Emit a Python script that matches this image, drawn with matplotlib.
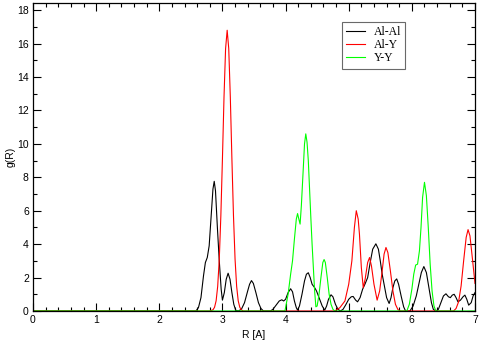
import numpy as np
import matplotlib
matplotlib.use("Agg")
import matplotlib.pyplot as plt
from matplotlib.ticker import MultipleLocator

# Al-Al
r_alal = [0.0, 2.58, 2.62, 2.66, 2.70, 2.73, 2.76, 2.79, 2.82, 2.85, 2.87, 2.89, 2.92, 2.95, 2.98,
          3.00, 3.03, 3.06, 3.09, 3.12, 3.15, 3.18, 3.21, 3.25, 3.30, 3.35, 3.40, 3.43, 3.46, 3.49,
          3.53, 3.57, 3.61, 3.65, 3.76, 3.80, 3.85, 3.90, 3.94, 3.97, 4.00, 4.04, 4.08, 4.11, 4.14,
          4.17, 4.19, 4.22, 4.26, 4.30, 4.33, 4.36, 4.39, 4.42, 4.46, 4.49, 4.52, 4.55, 4.58, 4.62,
          4.65, 4.68, 4.72, 4.75, 4.79, 4.83, 4.87, 4.91, 4.95, 5.00, 5.04, 5.07, 5.11, 5.14, 5.18,
          5.22, 5.26, 5.30, 5.34, 5.38, 5.43, 5.47, 5.50, 5.53, 5.57, 5.60, 5.64, 5.67, 5.70, 5.73,
          5.76, 5.79, 5.83, 5.87, 5.90, 5.97, 6.02, 6.07, 6.11, 6.15, 6.19, 6.23, 6.27, 6.31, 6.34,
          6.38, 6.42, 6.46, 6.50, 6.54, 6.58, 6.61, 6.64, 6.67, 6.70, 6.73, 6.77, 6.81, 6.84, 6.87,
          6.90, 6.94, 6.97, 7.00]
g_alal = [0.0, 0.0, 0.2, 0.8, 2.1, 2.9, 3.2, 3.9, 5.6, 7.3, 7.76, 7.2, 5.0, 3.0, 1.3,
          0.65, 1.1, 1.9, 2.26, 1.9, 1.1, 0.4, 0.05, 0.0, 0.1, 0.5, 1.2, 1.6, 1.82, 1.65,
          1.1, 0.5, 0.15, 0.0, 0.0, 0.1, 0.35, 0.6, 0.67, 0.6, 0.7, 1.1, 1.33, 1.15, 0.6,
          0.2, 0.05, 0.3, 1.0, 1.8, 2.2, 2.29, 2.0, 1.6, 1.4, 1.2, 0.9, 0.6, 0.3, 0.05,
          0.3, 0.7, 0.97, 0.85, 0.4, 0.1, 0.0, 0.1, 0.35, 0.7, 0.85, 0.87, 0.65, 0.55, 0.8,
          1.3, 1.63, 2.0, 2.9, 3.7, 4.02, 3.7, 3.0, 2.2, 1.4, 0.8, 0.45, 0.8, 1.4, 1.8,
          1.92, 1.6, 0.9, 0.25, 0.0, 0.0, 0.3, 0.9, 1.6, 2.3, 2.66, 2.3, 1.4, 0.5, 0.1,
          0.0, 0.1, 0.5, 0.9, 1.03, 0.85, 0.8, 0.95, 1.0, 0.8, 0.55, 0.65, 0.85, 0.95, 0.7,
          0.35, 0.5, 0.9, 1.1]

# Al-Y
r_aly = [0.0, 2.80, 2.85, 2.875, 2.90, 2.925, 2.95, 2.975, 3.00, 3.025, 3.05, 3.075, 3.10, 3.125,
         3.15, 3.175, 3.20, 3.225, 3.25, 3.275, 3.30, 3.33, 4.78, 4.86, 4.94, 5.00, 5.05, 5.09,
         5.12, 5.15, 5.17, 5.20, 5.23, 5.26, 5.30, 5.33, 5.36, 5.40, 5.45, 5.49, 5.53, 5.56, 5.59,
         5.62, 5.66, 5.70, 5.74, 5.78, 5.82, 6.66, 6.70, 6.74, 6.78, 6.82, 6.86, 6.89, 6.92, 6.96,
         7.00]
g_aly = [0.0, 0.0, 0.07, 0.22, 0.61, 1.48, 3.1, 5.7, 9.1, 12.8, 15.7, 16.8, 15.7, 12.8,
         9.1, 5.7, 3.1, 1.48, 0.61, 0.22, 0.07, 0.0, 0.0, 0.2, 0.6, 1.6, 3.0, 5.0,
         6.0, 5.5, 4.6, 2.6, 1.4, 1.9, 2.9, 3.2, 2.7, 1.6, 0.65, 1.2, 2.4, 3.4, 3.8,
         3.5, 2.4, 1.2, 0.4, 0.08, 0.0, 0.0, 0.15, 0.55, 1.5, 3.0, 4.4, 4.87, 4.5, 3.1,
         1.65]

# Y-Y
r_yy = [0.0, 3.99, 4.04, 4.08, 4.11, 4.14, 4.17, 4.19, 4.21, 4.23, 4.25, 4.28, 4.30, 4.32, 4.34,
        4.36, 4.38, 4.40, 4.42, 4.44, 4.46, 4.48, 4.50, 4.53, 4.56, 4.59, 4.61, 4.63, 4.66, 4.69,
        4.72, 4.75, 4.78, 5.92, 5.96, 6.00, 6.03, 6.06, 6.09, 6.12, 6.145, 6.17, 6.20, 6.23, 6.26,
        6.29, 6.32, 6.35, 6.38, 7.00]
g_yy = [0.0, 0.0, 1.0, 2.2, 3.0, 4.3, 5.5, 5.83, 5.5, 5.2, 6.3, 8.5, 10.0, 10.6, 10.1,
        9.0, 7.3, 5.6, 4.0, 2.6, 1.2, 0.25, 0.3, 1.0, 2.0, 2.9, 3.08, 2.9, 2.0, 1.0,
        0.4, 0.1, 0.0, 0.0, 0.4, 1.3, 2.2, 2.75, 2.8, 3.6, 5.0, 6.8, 7.7, 6.9, 5.0,
        2.8, 1.2, 0.3, 0.0, 0.0]

fig = plt.figure(figsize=(4.8, 3.4), dpi=100)
ax = fig.add_axes([33 / 480, 1 - 311 / 340, 442 / 480, 308 / 340])

ax.plot(r_alal, g_alal, color="black", lw=0.8, label="Al-Al")
ax.plot(r_aly, g_aly, color="red", lw=0.8, label="Al-Y")
ax.plot(r_yy, g_yy, color="#00ff00", lw=0.8, label="Y-Y")

ax.set_xlim(0, 7)
ax.set_ylim(0, 18.43)
ax.xaxis.set_major_locator(MultipleLocator(1))
ax.xaxis.set_minor_locator(MultipleLocator(0.2))
ax.yaxis.set_major_locator(MultipleLocator(2))
ax.yaxis.set_minor_locator(MultipleLocator(1))
ax.tick_params(which="both", direction="in", top=True, right=True, width=0.8)
ax.tick_params(which="major", length=6, labelsize=7.5, pad=3)
ax.tick_params(which="minor", length=3)
for lab in ax.get_xticklabels() + ax.get_yticklabels():
    lab.set_family("Liberation Sans")
for s in ax.spines.values():
    s.set_linewidth(0.9)

ax.set_xlabel("R [A]", family="Liberation Sans", fontsize=7.5, labelpad=3.5)
ax.set_ylabel("g(R)", family="Liberation Sans", fontsize=7.5, labelpad=1)

leg = ax.legend(loc="upper left", bbox_to_anchor=(309 / 442, 1 - 19 / 308),
                prop={"family": "Liberation Serif", "size": 8.5}, frameon=True,
                fancybox=False, borderpad=0.35, labelspacing=0.1, handlelength=1.6,
                handletextpad=0.75, borderaxespad=0)
leg.get_frame().set_edgecolor("#444444")
leg.get_frame().set_linewidth(0.8)

fig.savefig("out.png", dpi=100)
